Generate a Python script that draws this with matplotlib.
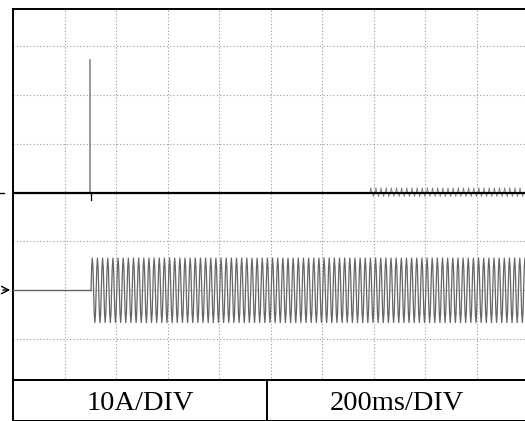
import numpy as np
import matplotlib.pyplot as plt
from matplotlib.patches import FancyArrowPatch

# oscilloscope settings
ms_per_div = 200
labels = ["10A/DIV", "200ms/DIV"]

# channel 1 (current): flat line, one spike at switch-on, small ripple later
ch1_level = 0.0
spike_t = 300          # ms
spike_top = 2.72       # div
spike_dip = -0.15
ripple_start = 1386    # ms
ripple_cycle = [0.0, 0.1, 0.0, 0.0, -0.08, 0.0]

# channel 2: flat until start, then 50 Hz oscillation
ch2_level = -2.0
ch2_start = 303        # ms
ch2_period = 20        # ms
ch2_cycle = [0.0, 0.47, 0.66, 0.47, 0.0, -0.47, -0.66, -0.47]

t_end = 1990

W, H = 525, 421
fig = plt.figure(figsize=(W / 100, H / 100), dpi=100)
# main screen, right edge runs slightly past the picture
ax = fig.add_axes([13 / W, 1 - 388 / H, 515 / W, (388 - 9) / H])
ax.set_xlim(0, 515 / 51.5 * ms_per_div)
ax.set_ylim(-4, 3.76)

# grid
for x in np.arange(ms_per_div, t_end, ms_per_div):
    ax.axvline(x, color='#999999', lw=0.8, ls=(0, (1, 2)), zorder=0)
for y in range(-3, 4):
    ax.axhline(y, color='#999999', lw=0.8, ls=(0, (1, 2)), zorder=0)

# channel 1
ax.plot([0, t_end], [ch1_level, ch1_level], color='black', lw=1.6, zorder=3)
ax.plot([spike_t, spike_t], [ch1_level, spike_top], color='#888888', lw=1.2, zorder=2)
ax.plot([spike_t + 4, spike_t + 4], [ch1_level, spike_dip], color='black', lw=0.9, zorder=3)
n_rip = int((t_end - ripple_start) / ch2_period)
rip = np.tile(ripple_cycle, n_rip)
t_rip = ripple_start + np.arange(len(rip)) * ch2_period / len(ripple_cycle)
ax.plot(t_rip, rip + ch1_level, color='#777777', lw=0.6, zorder=2)

# channel 2
ax.plot([0, ch2_start], [ch2_level, ch2_level], color='#666666', lw=1.0, zorder=3)
n_cyc = int((t_end - ch2_start) / ch2_period) + 1
wave = np.tile(ch2_cycle, n_cyc)
t_wave = ch2_start + np.arange(len(wave)) * ch2_period / len(ch2_cycle)
ax.plot(t_wave, wave + ch2_level, color='#666666', lw=0.9, zorder=3)

ax.set_xticks([])
ax.set_yticks([])
for s in ax.spines.values():
    s.set_linewidth(1.4)

# channel markers on the left edge
fig.add_artist(plt.Line2D([0, 4 / W], [1 - 193 / H, 1 - 193 / H], color='black', lw=1.0))
fig.add_artist(FancyArrowPatch((0, 1 - 290 / H), (13 / W, 1 - 290 / H),
                               transform=fig.transFigure, arrowstyle='->',
                               mutation_scale=13, lw=1.0, color='black'))

# label row below the screen
ax2 = fig.add_axes([13 / W, 0, 515 / W, (H - 388) / H + 0.02])
ax2.set_xlim(0, 515)
ax2.set_ylim(0, 1)
ax2.set_xticks([])
ax2.set_yticks([])
for s in ax2.spines.values():
    s.set_linewidth(1.4)
ax2.axvline(254, color='black', lw=1.4)
ax2.text(127, 0.42, labels[0], ha='center', va='center', fontsize=20.5, family='Liberation Serif')
ax2.text(384, 0.42, labels[1], ha='center', va='center', fontsize=20.5, family='Liberation Serif')

fig.savefig('out.png', dpi=100)
